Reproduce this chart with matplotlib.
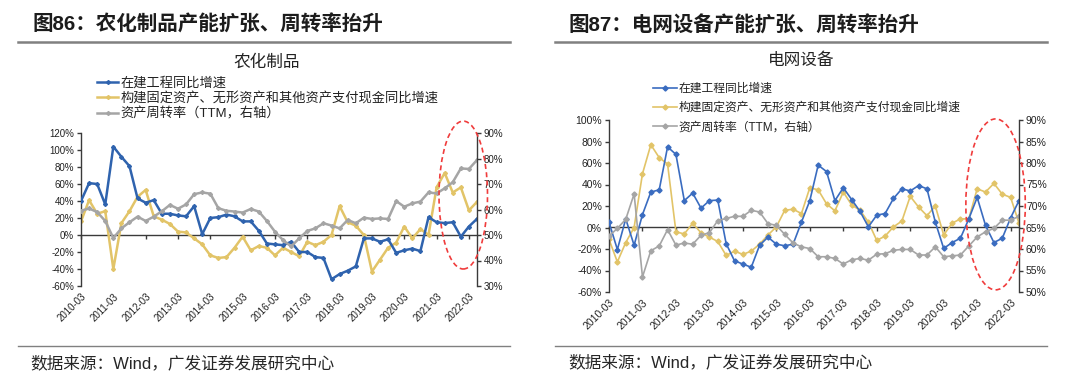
import numpy as np
import matplotlib
matplotlib.use("Agg")
import matplotlib.pyplot as plt
from matplotlib.lines import Line2D
from matplotlib.patches import Ellipse
from matplotlib.ticker import FuncFormatter

plt.rcParams['font.family'] = ['Liberation Sans', 'Noto Sans CJK SC', 'DejaVu Sans']
plt.rcParams['axes.unicode_minus'] = False

# ---------------- data ----------------
categories = [f"{y}-{m:02d}" for y in range(2010, 2023) for m in (3, 6, 9, 12)][:50]
tick_labels = ["2010-03", "2011-03", "2012-03", "2013-03", "2014-03", "2015-03", "2016-03",
               "2017-03", "2018-03", "2019-03", "2020-03", "2021-03", "2022-03"]

series_names = ["在建工程同比增速",
                "构建固定资产、无形资产和其他资产支付现金同比增速",
                "资产周转率（TTM，右轴）"]

# 农化制品
agro_cip = [40, 61, 60, 36, 104, 92, 81, 43, 38, 41, 25, 25, 23, 22, 34, 1, 20, 21, 24, 22,
            16, 16, 5, -10, -11, -12, -8, -20, -20, -26, -27, -52, -46, -42, -37, -4, -4, -8, -5, -21,
            -18, -16, -19, 21, 15, 14, 15, -2, 10, 19]
agro_capex = [16, 41, 25, 28, -40, 14, 28, 45, 53, 22, 18, 13, 4, 3, -4, -11, -24, -27, -26, -15,
              -2, -18, -13, -15, -24, -15, -20, -25, -8, -12, -8, 0, 34, 15, 11, 0, -43, -29, -15, -9,
              10, -4, 7, 0, 56, 73, 50, 56, 29, 39]
agro_turn = [59.5, 60.4, 59.0, 55.5, 48.8, 52.6, 55.0, 57.2, 55.5, 57.2, 59.3, 61.8, 60.3, 62.0, 66.0,
             66.7, 66.2, 60.5, 59.5, 59.2, 58.8, 60.2, 59.2, 55.5, 51.3, 48.0, 45.5, 48.7, 51.6, 52.6,
             54.6, 53.7, 52.6, 55.9, 54.6, 56.8, 56.3, 56.5, 56.3, 63.3, 61.1, 62.4, 63.1, 66.7, 66.3,
             68.3, 70.7, 76.1, 75.9, 79.4]

# 电网设备
grid_cip = [5, -20.5, 8, -16.5, 12, 33, 35, 75, 68, 25, 32, 18, 25, 25.5, -15, -31, -34, -37, -16.5, -9,
            -15.5, -17, -15.5, 5, 25, 58, 52, 25, 37, 26, 15, 0.6, 11.5, 13, 27, 36, 34, 39, 36, 5,
            -19.5, -14, -10, 8, 28, 2, -14, -10, 9, 25]
grid_capex = [-11, -32, -14, 0, 50, 77, 65, 59, -4, -6, 4, -5, -9, -13, -26, -22, -25, -22, -15.5, -7,
              0.6, 16, 17, 13, 37, 35, 22, 15.5, 33, 21, 16, 5, -12, -8, 0.6, 6, 29, 19, 11, 20,
              -7, 4, 8, 8, 36, 33, 41, 31, 28, 4]
grid_turn = [63.0, 64.8, 66.9, 72.8, 53.5, 59.6, 60.7, 64.5, 60.9, 61.4, 61.1, 63.2, 63.8, 66.6, 67.1,
             67.6, 67.6, 69.0, 68.6, 65.9, 65.5, 63.4, 61.4, 60.5, 60.1, 58.2, 58.2, 57.8, 56.5, 57.5,
             57.8, 57.4, 58.8, 58.9, 59.7, 59.9, 59.9, 58.6, 58.6, 60.5, 58.2, 58.4, 58.6, 60.7, 62.8,
             64.0, 64.8, 66.7, 66.7, 67.6]

# ---------------- style ----------------
W, H = 1080, 389
BLUE = '#2F63AE'
BLUE_R = '#3A6CC0'
YELLOW = '#E2C468'
GRAY = '#A5A5A5'
AX_C = '#3a3a3a'
TXT = '#222222'
RED = '#F03C3C'

fig = plt.figure(figsize=(W / 100, H / 100), dpi=100)
fig.patch.set_facecolor('white')


def fx(px):
    return px / W


def fy(py):
    return 1 - py / H


pct = FuncFormatter(lambda v, p: f"{v:.0f}%")


def panel(rect, left_lim, left_step, right_lim, right_step, cip, capex, turn, lw, ms,
          blue, xfs, yfs, ellipse):
    x = np.arange(len(categories))
    ax = fig.add_axes(rect)
    ax.set_xlim(0, len(categories) - 1)
    ax.set_ylim(*left_lim)
    ax.set_yticks(np.arange(left_lim[0], left_lim[1] + 0.1, left_step))
    ax.yaxis.set_major_formatter(pct)
    for s in ('top', 'bottom', 'right'):
        ax.spines[s].set_visible(False)
    ax.spines['left'].set_color(AX_C)
    ax.spines['left'].set_linewidth(1.0)
    ax.tick_params(axis='y', direction='out', length=3, width=1.0, color=AX_C,
                   labelsize=yfs, labelcolor=TXT, pad=2)
    tick_pos = [categories.index(t) for t in tick_labels]
    ax.set_xticks(tick_pos)
    ax.set_xticklabels(tick_labels)
    ax.tick_params(axis='x', length=0, labelsize=xfs, labelcolor=TXT, pad=4)
    for lab in ax.get_xticklabels():
        lab.set_rotation(45)
        lab.set_ha('right')
        lab.set_va('top')
        lab.set_rotation_mode('anchor')

    frac0 = (0 - left_lim[0]) / (left_lim[1] - left_lim[0])
    sec = ax.secondary_xaxis(frac0)
    sec.set_xticks(tick_pos)
    sec.tick_params(axis='x', direction='out', length=3, width=1.0, color=AX_C,
                    labelbottom=False, labeltop=False)
    for s in sec.spines.values():
        s.set_color(AX_C)
        s.set_linewidth(1.0)

    l1, = ax.plot(x, cip, color=blue, lw=lw, marker='D', ms=ms, zorder=3)
    l2, = ax.plot(x, capex, color=YELLOW, lw=lw, marker='D', ms=ms, zorder=2)

    axr = ax.twinx()
    axr.set_ylim(*right_lim)
    axr.set_yticks(np.arange(right_lim[0], right_lim[1] + 0.01, right_step))
    axr.yaxis.set_major_formatter(pct)
    for s in ('top', 'bottom', 'left'):
        axr.spines[s].set_visible(False)
    axr.spines['right'].set_color(AX_C)
    axr.spines['right'].set_linewidth(1.0)
    axr.tick_params(axis='y', direction='out', length=3, width=1.0, color=AX_C,
                    labelsize=yfs, labelcolor=TXT, pad=2)
    l3, = axr.plot(x, turn, color=GRAY, lw=lw, marker='D', ms=ms, zorder=2)

    cx, cy, ew, eh = ellipse
    e = Ellipse((cx, cy), ew, eh, transform=ax.transData, fill=False,
                edgecolor=RED, lw=1.2, ls=(0, (3, 2)), clip_on=False, zorder=5)
    axr.add_patch(e)
    return ax, axr, [l1, l2, l3]


# left panel
axL, axLr, hL = panel([fx(81), fy(286), fx(477) - fx(81), (286 - 133) / H],
                      (-60, 120), 20, (30, 90), 10,
                      agro_cip, agro_capex, agro_turn, lw=1.8, ms=2.0, blue=BLUE,
                      xfs=7.0, yfs=7.0, ellipse=(47.3, 47, 6.0, 174))
# right panel
axR, axRr, hR = panel([fx(609), fy(292), fx(1019) - fx(609), (292 - 120) / H],
                      (-60, 100), 20, (50, 90), 5,
                      grid_cip, grid_capex, grid_turn, lw=1.2, ms=2.6, blue=BLUE_R,
                      xfs=7.5, yfs=7.5, ellipse=(46.2, 21.5, 7.1, 159))

# headers
fig.text(fx(32), fy(25), "图86：农化制品产能扩张、周转率抬升", fontsize=14.8, fontweight='bold',
         color='#1c1c1c', ha='left', va='center')
fig.text(fx(568), fy(26), "图87：电网设备产能扩张、周转率抬升", fontsize=14.8, fontweight='bold',
         color='#1c1c1c', ha='left', va='center')
for x0, x1 in ((18, 510), (555, 1047)):
    fig.add_artist(Line2D([fx(x0), fx(x1)], [fy(42), fy(42)], color='#808080', lw=1.8))
    fig.add_artist(Line2D([fx(x0), fx(x1)], [fy(346), fy(346)], color='#808080', lw=1.0))

# subtitles
fig.text(fx(267), fy(62), "农化制品", fontsize=12, color=TXT, ha='center', va='center')
fig.text(fx(801), fy(60), "电网设备", fontsize=12, color=TXT, ha='center', va='center')

# sources
fig.text(fx(30), fy(363), "数据来源：Wind，广发证券发展研究中心", fontsize=12, color='#262626',
         ha='left', va='center')
fig.text(fx(568), fy(362), "数据来源：Wind，广发证券发展研究中心", fontsize=12, color='#262626',
         ha='left', va='center')

# legends
legL = fig.legend(hL, series_names, loc='upper left', bbox_to_anchor=(fx(97), fy(77)),
                  frameon=False, fontsize=9.5, borderpad=0, borderaxespad=0,
                  handlelength=1.6, handletextpad=0.15, labelspacing=0.18)
legR = fig.legend(hR, series_names, loc='upper left', bbox_to_anchor=(fx(653), fy(83)),
                  frameon=False, fontsize=8.5, borderpad=0, borderaxespad=0,
                  handlelength=2.0, handletextpad=0.15, labelspacing=0.6)
for leg in (legL, legR):
    for t in leg.get_texts():
        t.set_color(TXT)

fig.savefig("out.png", dpi=100)
